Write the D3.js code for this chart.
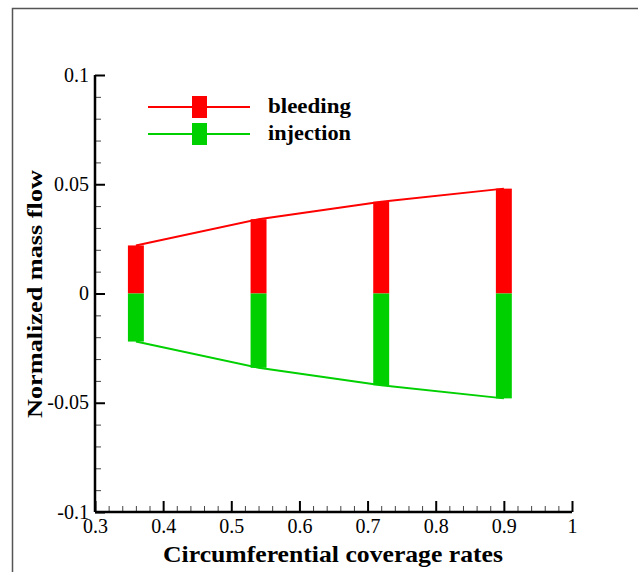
<!DOCTYPE html>
<html>
<head>
<meta charset="utf-8">
<script src="https://cdn.jsdelivr.net/npm/d3@7"></script>
<style>
  body { margin: 0; background: #fff; }
  svg { display: block; }
  text { font-family: "Liberation Serif", "Times New Roman", serif; }
</style>
</head>
<body>
<svg id="chart" width="638" height="572"></svg>
<script>
// data
var coverage = [0.36, 0.54, 0.72, 0.90];
var bleeding = [0.022, 0.034, 0.042, 0.048];
var injection = [-0.022, -0.034, -0.042, -0.048];
var seriesNames = ["bleeding", "injection"];
var xTicks = [0.3, 0.4, 0.5, 0.6, 0.7, 0.8, 0.9, 1];
var yTicks = [-0.1, -0.05, 0, 0.05, 0.1];

var svgWidth = 638, svgHeight = 572;
var vis = d3.select("#chart");

var x = d3.scaleLinear().domain([0.3, 1]).range([95, 572]);
var y = d3.scaleLinear().domain([-0.1, 0.1]).range([512, 75]);

var red = "#ff0000", green = "#00d000";
var barHalf = 0.0117;
var fmt = function (d) { return String(d); };   // plain hyphen minus like the original

// outer frame (only top and left edges show)
vis.append("path")
    .attr("d", "M12.5," + svgHeight + "V8.5H" + svgWidth)
    .attr("fill", "none")
    .attr("stroke", "#555")
    .attr("stroke-width", 1.5);

// lines through the bar ends
var line = d3.line().x(function (d) { return x(d[0]); }).y(function (d) { return y(d[1]); });

vis.append("path")
    .datum(d3.zip(coverage, bleeding))
    .attr("d", line)
    .attr("fill", "none")
    .attr("stroke", red)
    .attr("stroke-width", 2);

vis.append("path")
    .datum(d3.zip(coverage, injection))
    .attr("d", line)
    .attr("fill", "none")
    .attr("stroke", green)
    .attr("stroke-width", 2);

// bars
for (var i = 0; i < coverage.length; i++) {
    vis.append("rect")
        .attr("x", x(coverage[i] - barHalf))
        .attr("width", x(coverage[i] + barHalf) - x(coverage[i] - barHalf))
        .attr("y", y(bleeding[i]))
        .attr("height", y(0) - y(bleeding[i]))
        .style("fill", red);

    vis.append("rect")
        .attr("x", x(coverage[i] - barHalf))
        .attr("width", x(coverage[i] + barHalf) - x(coverage[i] - barHalf))
        .attr("y", y(0))
        .attr("height", y(injection[i]) - y(0))
        .style("fill", green);
}

// axes: ticks point inward
var xMinor = d3.range(0.32, 1.0, 0.02).filter(function (v) { return Math.abs(v * 10 - Math.round(v * 10)) > 1e-6; });
var yMinor = d3.range(-0.09, 0.1, 0.01).filter(function (v) { return Math.abs(v * 20 - Math.round(v * 20)) > 1e-6; });

var xAxisMinor = vis.append("g")
    .attr("transform", "translate(0," + y(-0.1) + ")")
    .call(d3.axisTop(x).tickValues(xMinor).tickSize(6).tickFormat(""));
xAxisMinor.select(".domain").remove();
xAxisMinor.selectAll("line").attr("stroke", "#444").attr("stroke-width", 1);

var yAxisMinor = vis.append("g")
    .attr("transform", "translate(" + x(0.3) + ",0)")
    .call(d3.axisRight(y).tickValues(yMinor).tickSize(6).tickFormat(""));
yAxisMinor.select(".domain").remove();
yAxisMinor.selectAll("line").attr("stroke", "#444").attr("stroke-width", 1);

var xAxis = vis.append("g")
    .attr("transform", "translate(0," + y(-0.1) + ")")
    .call(d3.axisTop(x).tickValues(xTicks).tickSize(11).tickFormat(fmt).tickSizeOuter(0));
xAxis.select(".domain").attr("stroke-width", 2.5).attr("d", "M" + x(0.3) + ",0H" + x(1));
xAxis.selectAll("line").attr("stroke-width", 2);
xAxis.selectAll("text")
    .attr("y", 21)
    .attr("dy", "0")
    .style("font-size", "20px")
    .style("font-family", "Liberation Serif, serif")
    .attr("fill", "#000");

var yAxis = vis.append("g")
    .attr("transform", "translate(" + x(0.3) + ",0)")
    .call(d3.axisRight(y).tickValues(yTicks).tickSize(10).tickFormat(fmt).tickSizeOuter(0));
yAxis.select(".domain").attr("stroke-width", 2.5).attr("d", "M0," + y(-0.1) + "V" + y(0.1));
yAxis.selectAll("line").attr("stroke-width", 2);
yAxis.selectAll("text")
    .attr("x", -6)
    .attr("dy", "0.3em")
    .attr("text-anchor", "end")
    .style("font-size", "20px")
    .style("font-family", "Liberation Serif, serif")
    .attr("fill", "#000");

// axis titles
vis.append("text")
    .attr("x", 163)
    .attr("y", 562)
    .attr("textLength", 340)
    .attr("lengthAdjust", "spacingAndGlyphs")
    .style("font-size", "23px")
    .style("font-weight", "bold")
    .text("Circumferential coverage rates");

vis.append("text")
    .attr("transform", "translate(42,418) rotate(-90)")
    .attr("textLength", 248)
    .attr("lengthAdjust", "spacingAndGlyphs")
    .style("font-size", "22px")
    .style("font-weight", "bold")
    .text("Normalized mass flow");

// legend
var legendColors = [red, green];
for (var k = 0; k < seriesNames.length; k++) {
    var ly = 107 + k * 27;
    vis.append("line")
        .attr("x1", 148).attr("x2", 250)
        .attr("y1", ly).attr("y2", ly)
        .attr("stroke", legendColors[k])
        .attr("stroke-width", 2);
    vis.append("rect")
        .attr("x", 192).attr("y", ly - 11)
        .attr("width", 15).attr("height", 22)
        .style("fill", legendColors[k]);
    vis.append("text")
        .attr("x", 268)
        .attr("y", ly + 6)
        .attr("textLength", 83)
        .attr("lengthAdjust", "spacingAndGlyphs")
        .style("font-size", "21px")
        .style("font-weight", "bold")
        .text(seriesNames[k]);
}
</script>
</body>
</html>
